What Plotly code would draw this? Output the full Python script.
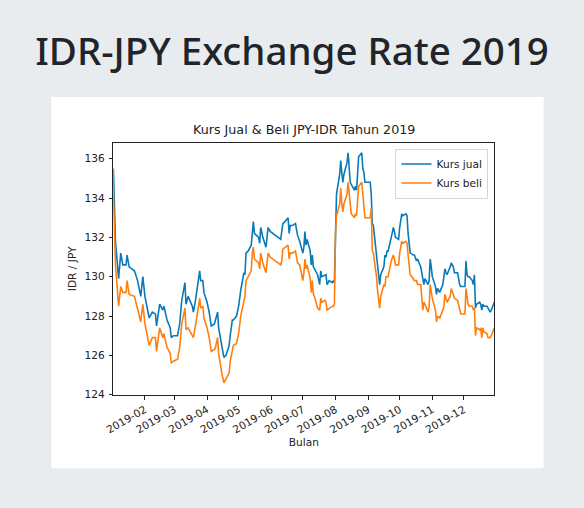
import plotly.graph_objects as go

# Data kurs JPY-IDR 2019
tanggal = [
    "01-02", "01-03", "01-04", "01-07", "01-09", "01-11", "01-14", "01-15", "01-17", "01-22",
    "01-25", "01-28", "01-30", "02-01", "02-05", "02-08", "02-11", "02-12", "02-15", "02-18",
    "02-19", "02-22", "02-25", "02-26", "02-28", "03-04", "03-06", "03-08", "03-11", "03-12",
    "03-14", "03-18", "03-19", "03-21", "03-25", "03-26", "03-28", "03-29", "04-01", "04-03",
    "04-05", "04-08", "04-09", "04-11", "04-12", "04-15", "04-16", "04-17", "04-19", "04-22",
    "04-23", "04-25", "04-26", "04-29", "05-01", "05-03", "05-06", "05-07", "05-08", "05-10",
    "05-13", "05-14", "05-15", "05-16", "05-20", "05-21", "05-22", "05-24", "05-27", "05-29",
    "05-31", "06-10", "06-11", "06-12", "06-14", "06-17", "06-18", "06-19", "06-21", "06-24",
    "06-26", "06-28", "07-01", "07-02", "07-03", "07-04", "07-05", "07-08", "07-09", "07-10",
    "07-11", "07-12", "07-15", "07-17", "07-18", "07-19", "07-22", "07-23", "07-24", "07-26",
    "07-29", "07-30", "07-31", "08-01", "08-02", "08-05", "08-06", "08-07", "08-08", "08-09",
    "08-12", "08-13", "08-14", "08-15", "08-16", "08-19", "08-20", "08-21", "08-22", "08-23",
    "08-26", "08-27", "08-28", "08-29", "08-30", "09-02", "09-03", "09-04", "09-05", "09-06",
    "09-09", "09-10", "09-12", "09-13", "09-16", "09-17", "09-18", "09-19", "09-20", "09-23",
    "09-25", "09-26", "09-27", "09-30", "10-01", "10-03", "10-04", "10-07", "10-08", "10-09",
    "10-10", "10-11", "10-14", "10-15", "10-17", "10-18", "10-21", "10-22", "10-23", "10-24",
    "10-25", "10-28", "10-29", "10-30", "10-31", "11-01", "11-04", "11-05", "11-06", "11-08",
    "11-11", "11-12", "11-13", "11-14", "11-15", "11-18", "11-19", "11-21", "11-22", "11-25",
    "11-26", "11-27", "11-28", "11-29", "12-02", "12-03", "12-04", "12-05", "12-06", "12-09",
    "12-10", "12-11", "12-12", "12-13", "12-16", "12-17", "12-18", "12-19", "12-20", "12-23",
    "12-24", "12-26", "12-27", "12-30",
]

kurs_jual = [
    135.5, 133.6, 131.8, 129.9, 131.2, 130.6, 130.6, 131.1, 130.5, 130.3,
    129.8, 129.0, 130.0, 129.0, 127.9, 128.2, 128.1, 127.5, 128.6, 128.3,
    128.5, 127.8, 127.4, 126.9, 127.0, 127.0, 127.6, 128.8, 129.7, 128.6,
    129.0, 128.5, 128.2, 128.8, 130.3, 129.8, 129.8, 129.2, 128.7, 128.2,
    127.5, 127.6, 127.8, 128.2, 127.4, 126.4, 126.3, 125.9, 126.0, 126.5,
    127.0, 127.8, 127.8, 128.0, 128.5, 129.3, 130.2, 130.1, 131.2, 131.3,
    131.6, 132.5, 132.8, 132.2, 132.0, 131.7, 132.5, 132.0, 131.5, 132.5,
    132.3, 131.9, 132.2, 132.7, 132.8, 133.0, 132.2, 132.6, 132.6, 132.7,
    132.1, 131.8, 131.2, 131.5, 132.3, 131.6, 131.9, 131.3, 130.6, 131.1,
    130.5, 130.4, 130.1, 129.6, 130.3, 130.0, 130.1, 130.1, 129.6, 129.8,
    129.7, 129.8, 129.7, 133.2, 134.2, 135.2, 135.9, 135.3, 134.8, 135.2,
    135.8, 136.3, 135.7, 134.8, 134.7, 134.4, 134.6, 134.4, 135.2, 136.1,
    136.3, 135.5, 135.3, 134.8, 134.8, 134.8, 134.8, 134.2, 132.7, 132.6,
    131.2, 130.8, 129.6, 130.1, 130.5, 131.1, 131.0, 131.3, 131.3, 132.0,
    132.5, 132.3, 132.0, 131.9, 132.5, 133.2, 133.1, 133.2, 133.1, 132.2,
    131.5, 131.2, 131.1, 131.1, 130.8, 130.9, 130.5, 130.2, 129.7, 129.6,
    129.9, 129.6, 129.8, 130.9, 130.5, 130.0, 129.5, 129.1, 129.4, 129.2,
    129.6, 130.0, 130.4, 130.2, 130.1, 130.5, 130.7, 130.5, 130.2, 130.2,
    129.8, 129.6, 129.5, 129.5, 129.5, 130.8, 130.1, 130.0, 130.0, 129.8,
    129.6, 130.1, 128.4, 128.6, 128.7, 128.6, 128.3, 128.6, 128.5, 128.5,
    128.4, 128.2, 128.3, 128.7,
]

kurs_beli = [
    134.1, 132.6, 130.6, 128.5, 129.5, 129.2, 129.2, 129.8, 129.1, 129.0,
    128.4, 127.7, 128.6, 127.6, 126.5, 126.9, 126.9, 126.2, 127.4, 126.9,
    127.1, 126.4, 126.1, 125.6, 125.7, 125.8, 126.4, 127.6, 128.4, 127.3,
    127.4, 127.0, 126.9, 127.5, 128.9, 128.4, 128.5, 127.9, 127.4, 126.9,
    126.2, 126.3, 126.4, 126.9, 126.1, 125.1, 124.9, 124.6, 124.8, 125.1,
    125.7, 126.4, 126.5, 126.6, 127.1, 128.0, 128.9, 129.0, 129.8, 130.0,
    130.3, 131.2, 131.5, 130.9, 130.7, 130.4, 131.2, 130.7, 130.2, 131.2,
    131.0, 130.6, 130.8, 131.4, 131.5, 131.6, 130.9, 131.2, 131.2, 131.3,
    130.7, 130.6, 129.8, 130.2, 130.9, 130.4, 130.6, 129.9, 129.2, 129.8,
    129.1, 129.0, 128.4, 128.3, 128.9, 128.7, 128.8, 128.7, 128.3, 128.4,
    128.5, 128.5, 128.6, 132.2, 133.1, 133.7, 134.5, 133.7, 133.3, 133.7,
    134.2, 134.8, 134.3, 133.5, 133.2, 133.0, 133.2, 133.1, 133.9, 134.6,
    134.8, 134.2, 134.0, 133.0, 133.0, 133.0, 133.0, 133.5, 131.3, 131.2,
    130.0, 129.3, 128.4, 129.0, 129.6, 129.5, 130.0, 130.0, 130.0, 130.8,
    131.1, 130.9, 130.6, 130.6, 131.2, 131.8, 131.7, 131.8, 131.7, 131.1,
    130.4, 130.1, 129.9, 129.8, 129.8, 129.6, 129.6, 128.8, 128.3, 128.7,
    128.6, 128.2, 128.5, 129.6, 129.1, 128.9, 128.3, 127.7, 128.0, 127.9,
    128.3, 128.5, 129.1, 128.8, 128.7, 129.0, 129.4, 129.1, 128.9, 128.8,
    128.5, 128.2, 128.1, 128.1, 128.1, 129.4, 128.8, 128.6, 128.5, 128.5,
    128.3, 128.4, 127.0, 127.4, 127.3, 127.4, 126.9, 127.4, 127.2, 127.1,
    126.9, 126.9, 127.0, 127.4,
]

tanggal = ["2019-" + t for t in tanggal]

# Ukuran halaman dan posisi kartu / area plot (piksel)
W, H = 584, 508
kartu = (43, 98, 543, 473)
plot_kiri, plot_kanan, plot_atas, plot_bawah = 106, 493, 144, 399

teks = "#222222"
font_mpl = "DejaVu Sans"
ukuran = 10.6

fig = go.Figure()
fig.add_trace(go.Scatter(
    x=tanggal, y=kurs_jual, mode="lines", name="Kurs jual",
    line=dict(color="#0a79b9", width=1.6)
))
fig.add_trace(go.Scatter(
    x=tanggal, y=kurs_beli, mode="lines", name="Kurs beli",
    line=dict(color="#ff7f0e", width=1.6)
))

# Kartu putih di belakang grafik
fig.add_shape(
    type="rect", xref="paper", yref="paper", layer="below",
    x0=kartu[0] / W, x1=kartu[2] / W, y0=1 - kartu[3] / H, y1=1 - kartu[1] / H,
    fillcolor="white", line=dict(width=0)
)

# Judul grafik (gaya matplotlib)
fig.add_annotation(
    text="Kurs Jual & Beli JPY-IDR Tahun 2019",
    xref="paper", yref="paper",
    x=(plot_kiri + plot_kanan) / 2 / W, y=1 - 131 / H,
    xanchor="center", yanchor="middle", showarrow=False,
    font=dict(family=font_mpl, size=12.7, color=teks)
)

sumbu = dict(
    showline=True, linecolor=teks, linewidth=1, mirror=True,
    ticks="outside", ticklen=3.5, tickcolor=teks, tickwidth=1,
    showgrid=False, zeroline=False,
    tickfont=dict(family=font_mpl, size=ukuran, color=teks),
)

fig.update_layout(
    width=W, height=H,
    margin=dict(l=0, r=0, t=0, b=0),
    paper_bgcolor="#e9ecef", plot_bgcolor="white",
    title=dict(
        text="IDR-JPY Exchange Rate 2019",
        x=0.5, xanchor="center", y=1 - 52 / H, yanchor="middle",
        font=dict(family="Noto Sans", size=38.5, color="#212529", weight=500)
    ),
    xaxis=dict(
        sumbu, domain=[plot_kiri / W, plot_kanan / W],
        type="date", range=["2019-01-02", "2019-12-30"],
        tick0="2019-02-01", dtick="M1", tickformat="%Y-%m", tickangle=-30,
        title=dict(text="Bulan", standoff=4,
                   font=dict(family=font_mpl, size=ukuran, color=teks)),
    ),
    yaxis=dict(
        sumbu, domain=[1 - plot_bawah / H, 1 - plot_atas / H],
        range=[123.98, 136.82], tick0=124, dtick=2, ticklabelstandoff=2,
        title=dict(text="IDR / JPY", standoff=5,
                   font=dict(family=font_mpl, size=ukuran, color=teks)),
    ),
    legend=dict(
        x=487 / W, y=1 - 150 / H, xanchor="right", yanchor="top",
        bgcolor="white", bordercolor="#d5d5d5", borderwidth=1,
        font=dict(family=font_mpl, size=ukuran, color=teks),
        itemwidth=30, tracegroupgap=0,
    ),
    showlegend=True,
)

# halaman tanpa margin bawaan browser, tanpa modebar
fig.write_html(
    "out.html",
    config={"displayModeBar": False},
    post_script="document.body.style.margin='0';",
)
